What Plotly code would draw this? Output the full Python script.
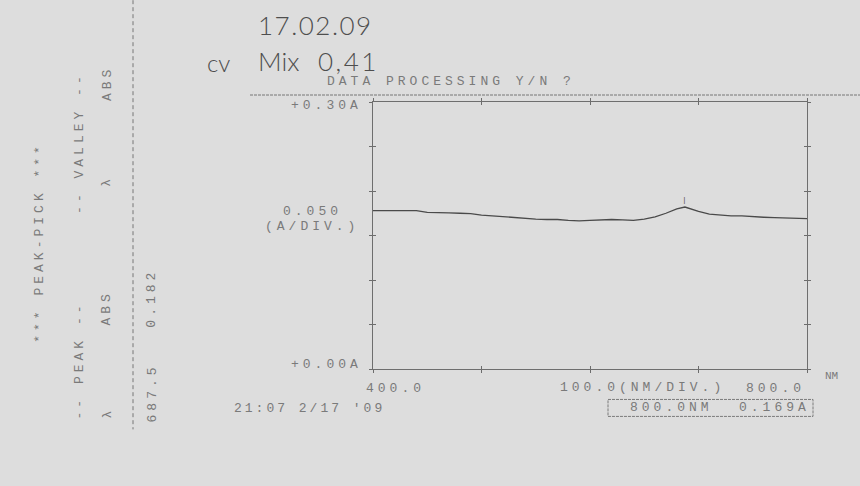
import plotly.graph_objects as go

# Absorbance scan, 400-800 nm
wavelength_nm = [400, 410, 420, 430, 440, 450, 460, 470, 480, 490, 500, 510, 520, 530,
                 540, 550, 560, 570, 580, 590, 600, 610, 620, 630, 640, 650, 660, 670,
                 680, 687.5, 690, 700, 710, 720, 730, 740, 750, 760, 770, 780, 790, 800]
absorbance = [0.178, 0.178, 0.178, 0.178, 0.178, 0.176, 0.176, 0.1755, 0.175, 0.1745,
              0.173, 0.172, 0.171, 0.170, 0.169, 0.1685, 0.168, 0.168, 0.167, 0.1665,
              0.167, 0.1675, 0.168, 0.1675, 0.167, 0.1685, 0.171, 0.175, 0.180, 0.182,
              0.181, 0.177, 0.174, 0.173, 0.172, 0.172, 0.171, 0.1705, 0.170, 0.1695,
              0.169, 0.169]

# Peak-pick result and cursor readout
peak_nm = [687.5]
peak_abs = [0.182]
cursor_nm = 800.0
cursor_abs = 0.169

y_tick_labels = ["+0.00A", "+0.30A"]
x_tick_labels = ["400.0", "800.0"]

# plot-area frame in pixels
L, R, T, B = 373, 807, 102, 369.5
W, H = 860, 486


def px(x):
    return (x - L) / (R - L)


def py(y):
    return (B - y) / (B - T)


INK = "#7a7a7a"
PEN = "#4e4e4e"
MONO = "Liberation Mono"


def dot(text, gap=4.0):
    return f'<span style="letter-spacing:{gap}px">{text}</span>'


def note(text, x, y, xanchor="center", yanchor="middle", angle=0, size=13,
         color=INK, family=MONO, weight=None, xref="paper", yref="paper"):
    font = dict(family=family, size=size, color=color)
    if weight is not None:
        font["weight"] = weight
    return dict(text=text, x=x, y=y, xref=xref, yref=yref, xanchor=xanchor,
                yanchor=yanchor, textangle=angle, showarrow=False, font=font)


fig = go.Figure()
fig.add_trace(go.Scatter(x=wavelength_nm, y=absorbance, mode="lines",
                         line=dict(color="#4a4a4a", width=1.3),
                         hoverinfo="skip", showlegend=False))
fig.add_trace(go.Scatter(x=[], y=[], xaxis="x2", yaxis="y2", showlegend=False))

axis_common = dict(showgrid=False, zeroline=False, showticklabels=False,
                   tickcolor="#6c6c6c", ticklen=3, tickwidth=1)

annotations = []
# y-axis labels
annotations.append(note(dot(y_tick_labels[1]), px(L - 9), py(106), xanchor="right"))
annotations.append(note(dot(y_tick_labels[0]), px(L - 9), py(365), xanchor="right"))
annotations.append(note(dot("0.050"), px(312), py(212)))
annotations.append(note(dot("(A/DIV.)"), px(312), py(227)))
# x-axis labels
annotations.append(note(dot(x_tick_labels[0]), 400, py(389), xanchor="left",
                        xref="x"))
annotations[-1]["xshift"] = -9
annotations.append(note(dot(x_tick_labels[1]), 800, py(389), xanchor="right",
                        xref="x"))
annotations.append(note(dot("100.0(NM/DIV.)"), px(558), py(388), xanchor="left"))
annotations.append(note("NM", px(831), py(377), size=11))
# cursor readout box text
annotations.append(note(dot(f"{cursor_nm:.1f}NM"), px(628), py(408), xanchor="left"))
annotations.append(note(dot(f"{cursor_abs:.3f}A"), px(812), py(408), xanchor="right"))
annotations.append(note(dot("21:07 2/17 '09", 3.0), px(232), py(409), xanchor="left"))
# header
annotations.append(note(dot("DATA PROCESSING Y/N ?"), px(325), py(81), xanchor="left"))
# peak mark
annotations.append(note("|", peak_nm[0], peak_abs[0], xref="x", yref="y",
                        yanchor="bottom", size=8, color="#555555"))
annotations[-1]["yshift"] = 1
# peak-pick table (rotated)
annotations.append(note(dot("*** PEAK-PICK ***"), px(40), py(243), angle=-90))
annotations.append(note(dot("-- PEAK --"), px(80), py(361), angle=-90))
annotations.append(note(dot("-- VALLEY --"), px(80), py(143), angle=-90))
annotations.append(note("λ", px(107), py(415), angle=-90))
annotations.append(note(dot("ABS"), px(107), py(309), angle=-90))
annotations.append(note("λ", px(107), py(183), angle=-90))
annotations.append(note(dot("ABS"), px(107), py(84), angle=-90))
annotations.append(note(dot(f"{peak_nm[0]:.1f}"), px(152), py(394), angle=-90))
annotations.append(note(dot(f"{peak_abs[0]:.3f}"), px(152), py(299), angle=-90))
# handwritten notes
hand = dict(family="Lato", color=PEN, weight=300)
annotations.append(note(dot("17.02.09", 1.5), px(256), py(25), xanchor="left",
                        size=26, **hand))
annotations.append(note("cv", px(205), py(62), xanchor="left", size=24, **hand))
annotations.append(note("Mix", px(256), py(61), xanchor="left", size=26, **hand))
annotations.append(note(dot("0,41", 2.5), px(316), py(61), xanchor="left",
                        size=26, **hand))

shapes = [
    # separator under the header
    dict(type="line", xref="paper", yref="paper", x0=px(250), x1=px(860),
         y0=py(95), y1=py(95), line=dict(color="#767676", width=1, dash="3px,1px")),
    # dashed column rule of the peak table
    dict(type="line", xref="paper", yref="paper", x0=px(133), x1=px(133),
         y0=py(0), y1=py(430), line=dict(color="#767676", width=1, dash="4px,3px")),
    # cursor readout box
    dict(type="rect", xref="paper", yref="paper", x0=px(608), x1=px(813),
         y0=py(400), y1=py(417), line=dict(color="#7a7a7a", width=1, dash="3px,1px")),
]

fig.update_layout(
    width=W, height=H,
    margin=dict(l=L, r=W - R, t=T, b=H - B, pad=0),
    paper_bgcolor="#dddddd", plot_bgcolor="#dddddd",
    showlegend=False,
    xaxis=dict(range=[400, 800], dtick=100, tick0=400, ticks="inside",
               showline=True, mirror="ticks", linecolor="#6e6e6e", linewidth=1,
               **axis_common),
    yaxis=dict(range=[0, 0.30], dtick=0.05, tick0=0, ticks="inside",
               showline=True, mirror="ticks", linecolor="#6e6e6e", linewidth=1,
               **axis_common),
    xaxis2=dict(range=[400, 800], dtick=100, tick0=400, ticks="outside",
                overlaying="x", mirror="ticks", showline=False, anchor="y2",
                **axis_common),
    yaxis2=dict(range=[0, 0.30], dtick=0.05, tick0=0, ticks="outside",
                overlaying="y", mirror="ticks", showline=False, anchor="x2",
                **axis_common),
    annotations=annotations,
    shapes=shapes,
)

fig.write_html("out.html")
